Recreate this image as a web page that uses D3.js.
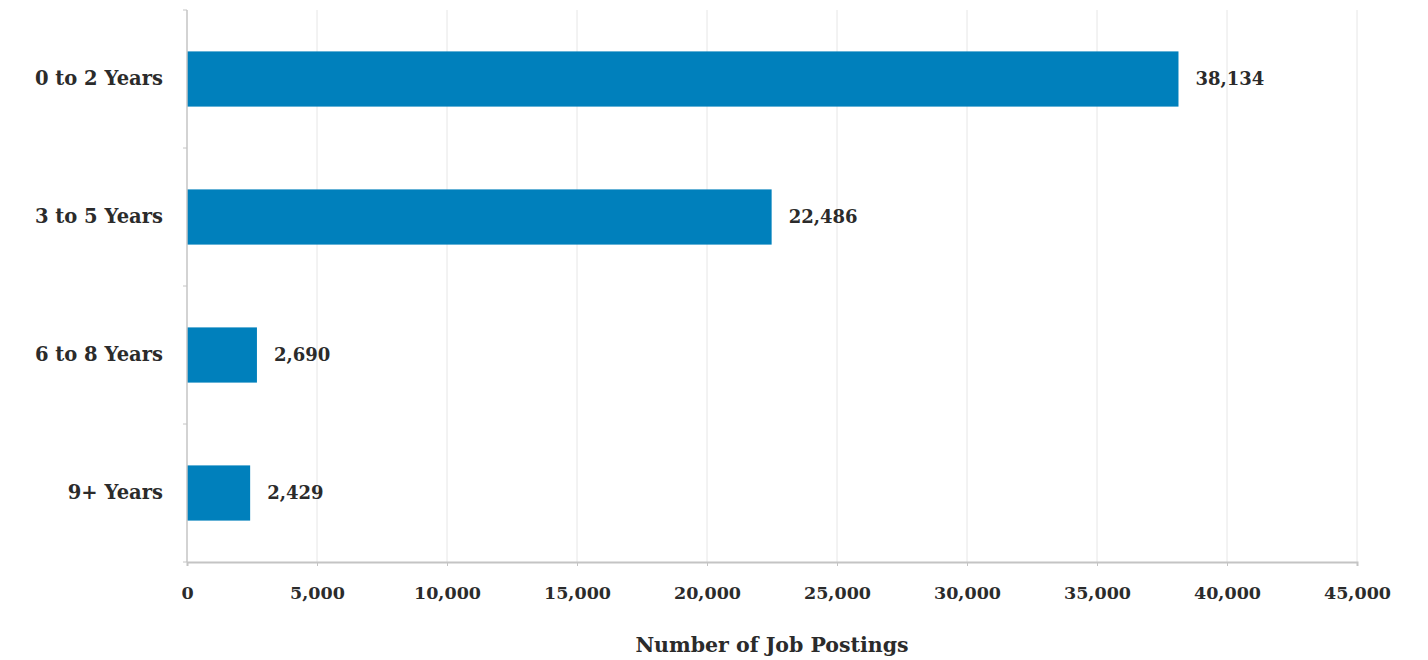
<!DOCTYPE html>
<html><head><meta charset="utf-8">
<script src="https://cdn.jsdelivr.net/npm/d3@7"></script>
<style>body{margin:0;background:#fff}svg text{font-family:"DejaVu Serif",serif;font-weight:bold;fill:#2b2b2b}</style>
</head><body><svg id="c" width="1428" height="660"></svg>
<script>
const categories = ["0 to 2 Years","3 to 5 Years","6 to 8 Years","9+ Years"];
const values = [38134,22486,2690,2429];
const tickValues = [0,5000,10000,15000,20000,25000,30000,35000,40000,45000];
const axisTitle = "Number of Job Postings";

const svg = d3.select("#c");
const m = {left:187, right:71, top:10, bottom:98};
const W = 1428, H = 660;
const FONT = "DejaVu Serif";
const x = d3.scaleLinear().domain([0,45000]).range([m.left, W-m.right]);
const y = d3.scaleBand().domain(categories).range([m.top, H-m.bottom]).paddingInner(0.6).paddingOuter(0.3);

// gridlines
svg.append("g").selectAll("line").data(tickValues.slice(1)).join("line")
  .attr("x1",d=>x(d)).attr("x2",d=>x(d)).attr("y1",m.top).attr("y2",H-m.bottom)
  .attr("stroke","#e6e6e6").attr("stroke-width",1);

// bars
svg.append("g").selectAll("rect").data(values).join("rect")
  .attr("x",x(0)).attr("y",(d,i)=>y(categories[i]))
  .attr("width",d=>x(d)-x(0)).attr("height",y.bandwidth())
  .attr("fill","#0080BC");

// value labels
svg.append("g").selectAll("text").data(values).join("text")
  .attr("x",d=>x(d)+17).attr("y",(d,i)=>y(categories[i])+y.bandwidth()/2)
  .attr("dy","0.35em").attr("font-size",18).text(d=>d3.format(",")(d));

// x axis
const xa = svg.append("g").attr("transform",`translate(0,${H-m.bottom})`)
  .call(d3.axisBottom(x).tickValues(tickValues).tickFormat(d3.format(",")).tickSize(4).tickPadding(21));
xa.select(".domain").attr("stroke","#c4c4c4").attr("stroke-width",2);
xa.selectAll(".tick line").attr("stroke","#c4c4c4");
xa.selectAll("text").attr("font-size",17.5).attr("font-family",FONT).attr("fill","#2b2b2b");

// y axis
const ya = svg.append("g").attr("transform",`translate(${m.left},0)`)
  .call(d3.axisLeft(y).tickSize(0).tickPadding(24));
ya.select(".domain").attr("stroke","#c4c4c4").attr("stroke-width",1.5).attr("d",`M0,${m.top}V${H-m.bottom}`);
ya.selectAll("text").attr("font-size",19.5).attr("font-family",FONT).attr("fill","#2b2b2b");
// band boundary ticks
const step = y.step();
const bounds = [];
categories.forEach(c=>bounds.push(y(c)-y.paddingInner()*step/2));
svg.append("g").selectAll("line").data(bounds.slice(1).concat([m.top, H-m.bottom])).join("line")
  .attr("x1",m.left-4).attr("x2",m.left).attr("y1",d=>d).attr("y2",d=>d)
  .attr("stroke","#c4c4c4");

svg.append("text").attr("x",(x(0)+x(45000))/2).attr("y",652).attr("text-anchor","middle")
  .attr("font-size",20.5).text(axisTitle);
</script></body></html>
